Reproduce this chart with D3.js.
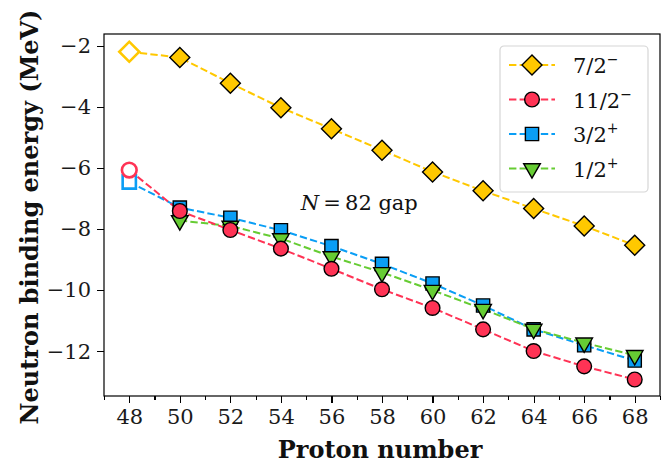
<!DOCTYPE html>
<html>
<head>
<meta charset="utf-8">
<title>neutron-binding</title>
<script src="https://cdn.jsdelivr.net/npm/d3@7"></script>
<style>
  body { margin: 0; background: #fff; }
  svg { font-family: "DejaVu Serif", serif; }
  .axis path, .axis line { stroke: #000; stroke-width: 1.1px; shape-rendering: crispEdges; }
  .axis text { font-size: 21px; fill: #1a1a1a; font-family: "DejaVu Serif", serif; }
  .label { font-size: 24px; font-weight: bold; fill: #111; }
  .legend text { font-size: 21px; fill: #111; }
</style>
</head>
<body>
<svg width="662" height="463"></svg>
<script>
// proton numbers
var protons = [48, 50, 52, 54, 56, 58, 60, 62, 64, 66, 68];
var xTicks = [48, 50, 52, 54, 56, 58, 60, 62, 64, 66, 68];
var xMinor = [47, 49, 51, 53, 55, 57, 59, 61, 63, 65, 67, 69];
var yTicks = [-2, -4, -6, -8, -10, -12];

// single-particle energies (MeV), null where no point
var e72 = [-2.2, -2.39, -3.23, -4.03, -4.72, -5.42, -6.13, -6.75, -7.33, -7.9, -8.53];
var e112 = [-6.07, -7.41, -8.03, -8.64, -9.3, -9.97, -10.58, -11.28, -11.99, -12.49, -12.92];
var e32 = [-6.46, -7.3, -7.63, -8.04, -8.56, -9.14, -9.78, -10.5, -11.28, -11.8, -12.3];
var e12 = [null, -7.72, -7.9, -8.31, -8.9, -9.42, -10.0, -10.62, -11.27, -11.72, -12.13];

var series = [
  {name: "7/2", parity: "\u2212", vals: e72, color: "#FFC800", shape: "diamond"},
  {name: "11/2", parity: "\u2212", vals: e112, color: "#FF3355", shape: "circle"},
  {name: "3/2", parity: "+", vals: e32, color: "#0A9EF5", shape: "square"},
  {name: "1/2", parity: "+", vals: e12, color: "#66CC33", shape: "triangle"}
];

var svg = d3.select("svg"),
    margin = {top: 34, right: 2, bottom: 67, left: 104},
    width = +svg.attr("width") - margin.left - margin.right,
    height = +svg.attr("height") - margin.top - margin.bottom,
    g = svg.append("g").attr("transform", "translate(" + margin.left + "," + margin.top + ")");

var x = d3.scaleLinear().domain([47, 69]).range([0, width]);
var y = d3.scaleLinear().domain([-13.46, -1.62]).range([height, 0]);

var symbolFor = {
  diamond: d3.symbol().type(d3.symbolSquare).size(200),
  circle: d3.symbol().type(d3.symbolCircle).size(170),
  square: d3.symbol().type(d3.symbolSquare).size(175),
  triangle: d3.symbol().type(d3.symbolTriangle).size(120)
};
function markerTransform(shape, px, py) {
  if (shape === "diamond") return "translate(" + px + "," + py + ") rotate(45)";
  if (shape === "triangle") return "translate(" + px + "," + py + ") rotate(180)";
  return "translate(" + px + "," + py + ")";
}

// axes
g.append("g")
  .attr("class", "axis")
  .attr("transform", "translate(0," + height + ")")
  .call(d3.axisBottom(x).tickValues(xMinor).tickSize(4).tickFormat(""))
  .call(function(s) { s.select(".domain").remove(); });

g.append("g")
  .attr("class", "axis")
  .attr("transform", "translate(0," + height + ")")
  .call(d3.axisBottom(x).tickValues(xTicks).tickSize(7).tickPadding(6).tickFormat(d3.format("d")))
  .call(function(s) { s.select(".domain").remove(); });

g.append("g")
  .attr("class", "axis")
  .call(d3.axisLeft(y).tickValues(yTicks).tickSize(7).tickPadding(6)
    .tickFormat(function(d) { return d3.format("d")(d).replace("-", "\u2212"); }))
  .call(function(s) { s.select(".domain").remove(); });

g.append("rect")
  .attr("width", width).attr("height", height)
  .attr("fill", "none").attr("stroke", "#000").attr("stroke-width", 1.2);

// lines
var line = d3.line()
  .defined(function(d) { return d.v !== null; })
  .x(function(d) { return x(d.p); })
  .y(function(d) { return y(d.v); });

var drawOrder = [series[2], series[3], series[1], series[0]];

drawOrder.forEach(function(s) {
  var pts = protons.map(function(p, i) { return {p: p, v: s.vals[i]}; });
  g.append("path")
    .datum(pts)
    .attr("fill", "none")
    .attr("stroke", s.color)
    .attr("stroke-width", 2)
    .attr("stroke-dasharray", "7.4,3.2")
    .attr("d", line);
});

drawOrder.forEach(function(s) {
  var pts = protons.map(function(p, i) { return {p: p, v: s.vals[i], open: p === 48}; })
    .filter(function(d) { return d.v !== null; });
  g.selectAll(null)
    .data(pts)
    .enter().append("path")
    .attr("d", symbolFor[s.shape])
    .attr("transform", function(d) { return markerTransform(s.shape, x(d.p), y(d.v)); })
    .attr("fill", function(d) { return d.open ? "#fff" : s.color; })
    .attr("stroke", function(d) { return d.open ? s.color : "#000"; })
    .attr("stroke-width", function(d) { return d.open ? 2.6 : 1.4; });
});

// annotation
var note = g.append("text")
  .attr("x", x(57.1)).attr("y", y(-7.38))
  .attr("text-anchor", "middle")
  .attr("font-size", 21).attr("fill", "#111");
note.append("tspan").attr("font-style", "italic").text("N");
note.append("tspan").text("\u2009=\u200982 gap");

// legend
var legend = svg.append("g").attr("class", "legend").attr("transform", "translate(500,46)");
legend.append("rect")
  .attr("width", 148).attr("height", 146).attr("rx", 4)
  .attr("fill", "#fff").attr("fill-opacity", 0.8)
  .attr("stroke", "#d6d6d6").attr("stroke-width", 1.2);

series.forEach(function(s, i) {
  var ly = 19 + i * 34.5;
  var row = legend.append("g").attr("transform", "translate(0," + ly + ")");
  row.append("line")
    .attr("x1", 9).attr("x2", 55)
    .attr("stroke", s.color).attr("stroke-width", 2)
    .attr("stroke-dasharray", "7.4,3.2");
  row.append("path")
    .attr("d", symbolFor[s.shape])
    .attr("transform", markerTransform(s.shape, 32, 0))
    .attr("fill", s.color).attr("stroke", "#000").attr("stroke-width", 1.4);
  var t = row.append("text").attr("x", 73).attr("y", 8);
  t.append("tspan").text(s.name);
  t.append("tspan").attr("dy", -9).attr("font-size", 14).text(s.parity);
});

// axis labels
svg.append("text")
  .attr("class", "label")
  .attr("x", margin.left + width / 2 - 2)
  .attr("y", 458)
  .attr("text-anchor", "middle")
  .text("Proton number");

svg.append("text")
  .attr("class", "label")
  .attr("transform", "translate(38," + (margin.top + height / 2 + 2) + ") rotate(-90)")
  .attr("text-anchor", "middle")
  .text("Neutron binding energy (MeV)");
</script>
</body>
</html>
